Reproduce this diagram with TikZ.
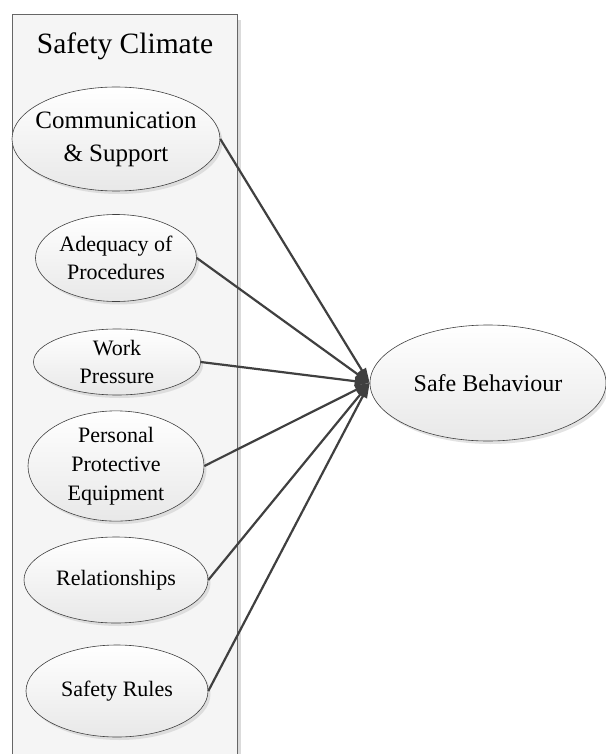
\documentclass[tikz,border=0pt]{standalone}
\usepackage{fontspec}
\setmainfont{Liberation Serif}
\usetikzlibrary{shapes.geometric,arrows.meta,shadows}
\definecolor{linegray}{HTML}{404040}
\tikzset{
  factor/.style={ellipse, draw=black!75, line width=0.6pt, inner sep=0pt,
    top color=white, bottom color=black!9, align=center,
    font=\fontsize{22}{28}\selectfont,
    drop shadow={shadow xshift=2.5pt, shadow yshift=-3pt, fill=black!22}},
  link/.style={draw=linegray, line width=2.2pt,
    -{Triangle[length=15pt,width=9pt]}}
}
\begin{document}
\begin{tikzpicture}[x=1pt,y=-1pt]
\useasboundingbox (0,0) rectangle (605,754);
% container shadow and box
\fill[black!14] (237,20) rectangle (241,754);
\fill[black!4] (12,14) rectangle (237,754);
\draw[black!60, line width=0.8pt] (12,754) -- (12,14) -- (237,14) -- (237,754);
\node[font=\fontsize{29.5}{33}\selectfont] (title) at (125,46) {Safety Climate};
% factors
\node[factor, minimum width=208pt, minimum height=104pt] (cs) at (116,139) {};
\node[align=center, font=\fontsize{25}{33}\selectfont] (cstext) at (cs.center) {Communication\\\& Support};
\node[factor, minimum width=161pt, minimum height=87pt] (ap) at (116,258) {Adequacy of\\Procedures};
\node[factor, minimum width=167pt, minimum height=66pt] (wp) at (117,362) {Work\\Pressure};
\node[factor, minimum width=176pt, minimum height=96pt, font=\fontsize{22}{29}\selectfont] (ppe) at (116,466) {Personal\\Protective\\Equipment};
\node[factor, minimum width=184pt, minimum height=86pt] (rel) at (116,580) {Relationships};
\node[factor, minimum width=182pt, minimum height=92pt] (sr) at (117,691) {Safety Rules};
\node[factor, minimum width=236pt, minimum height=116pt, font=\fontsize{24}{28}\selectfont] (sb) at (488,383) {Safe Behaviour};
% connectors
\foreach \n in {cs,ap,wp,ppe,rel,sr}
  \draw[link] (\n.east) -- (sb.west);
\end{tikzpicture}
\end{document}
